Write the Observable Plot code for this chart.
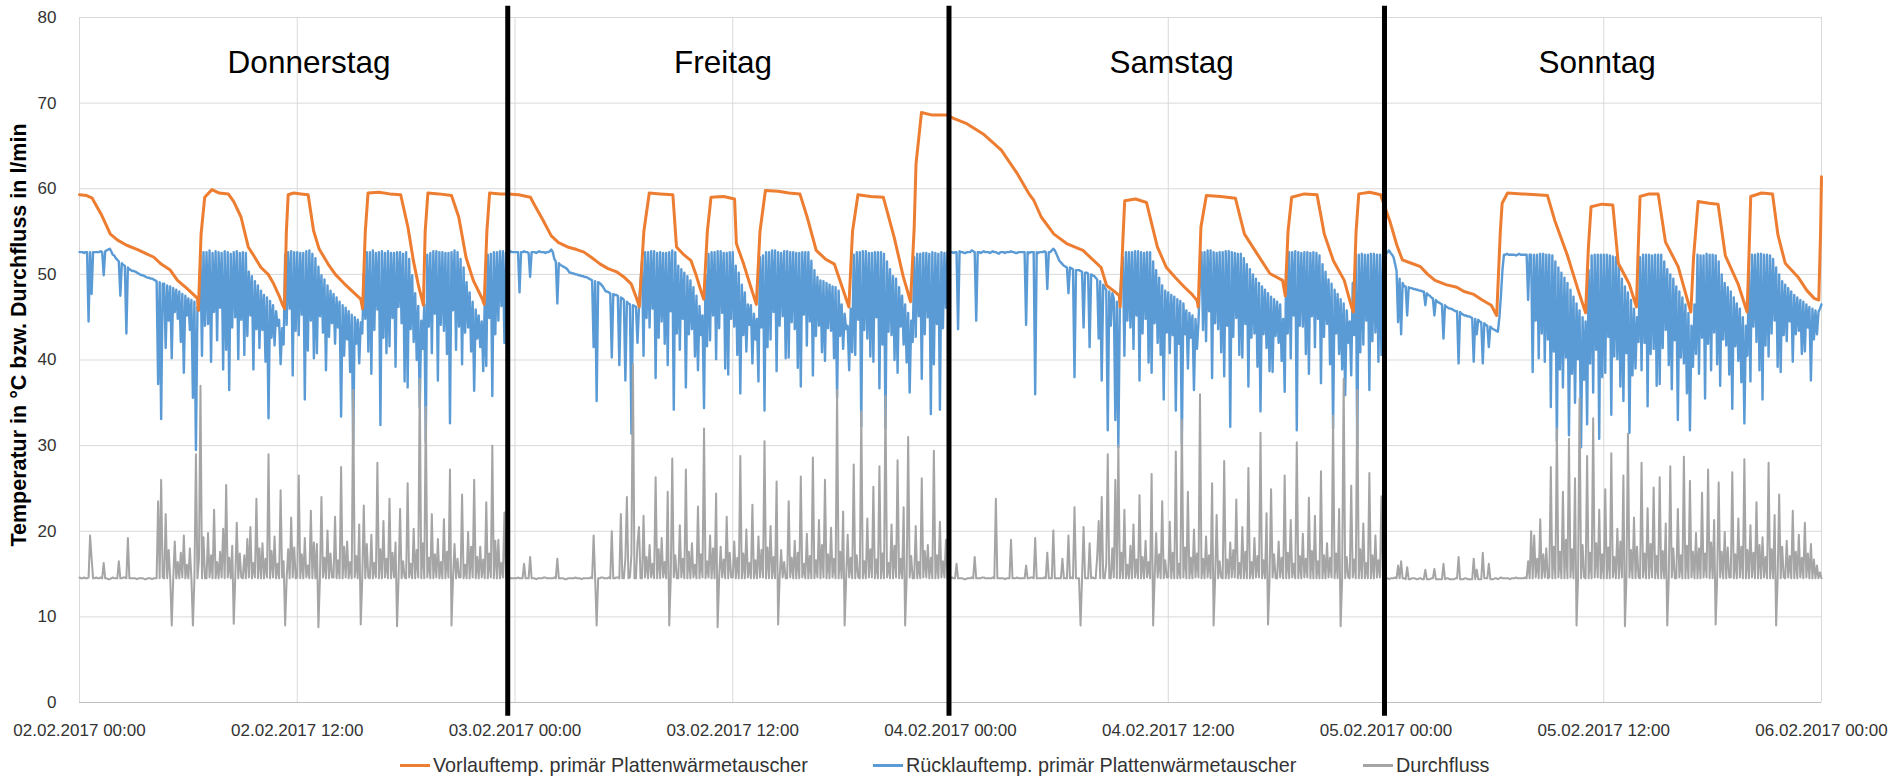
<!DOCTYPE html>
<html><head><meta charset="utf-8">
<script src="https://cdn.jsdelivr.net/npm/d3@7"></script>
<script src="https://cdn.jsdelivr.net/npm/@observablehq/plot@0.6"></script>
<style>
body{margin:0;background:#fff;font-family:"Liberation Sans",Arial,sans-serif;}
#wrap{position:relative;width:1901px;height:776px;overflow:hidden;}
#legend{position:absolute;left:0;top:752px;width:1901px;height:26px;font-size:19.8px;color:#333;}
.item{position:absolute;top:0;height:26px;display:flex;align-items:center;white-space:nowrap;}
.sw{display:inline-block;width:30px;height:3px;margin-right:3px;}
</style></head><body>
<div id="wrap"><div id="chart"></div><div id="legend"></div></div>
<script>
// ---------- data ----------
const startIso = "2017-02-02T00:00:00Z";
const stepMinutes = 5;
const seriesNames = ["Vorlauftemp. primär Plattenwärmetauscher","Rücklauftemp. primär Plattenwärmetauscher","Durchfluss"];
const seriesColors = ["#ED7D31","#5B9BD5","#A5A5A5"];
const yTitle = "Temperatur in °C bzw. Durchfluss in l/min";
const yTicks = [0,10,20,30,40,50,60,70,80];
const xTickTimes = ["2017-02-02T00:00:00Z","2017-02-02T12:00:00Z","2017-02-03T00:00:00Z","2017-02-03T12:00:00Z","2017-02-04T00:00:00Z","2017-02-04T12:00:00Z","2017-02-05T00:00:00Z","2017-02-05T12:00:00Z","2017-02-06T00:00:00Z"];
const dayNames = ["Donnerstag","Freitag","Samstag","Sonntag"];
const dayLabelTimes = ["2017-02-02T12:39:00Z","2017-02-03T11:28:00Z","2017-02-04T12:11:00Z","2017-02-05T11:38:00Z"];
const dayLabelValue = 74.7;
const separatorTimes = ["2017-02-02T23:36:00Z","2017-02-03T23:55:00Z","2017-02-04T23:55:00Z"];
const separatorRange = [-1.6, 81.3];

// Vorlauf: hours since start, value
const vorlaufHours = [0,0.4,0.7,1.2,1.7,2.1,2.6,3.2,3.7,4.1,4.5,5.0,5.4,5.9,6.3,6.5,6.55,6.7,6.9,7.3,7.7,8.2,8.5,8.9,9.3,9.6,10.0,10.4,10.7,11.0,11.2,11.3,11.4,11.5,11.8,12.2,12.6,12.9,13.2,13.7,14.1,14.6,15.1,15.5,15.6,15.75,15.9,16.5,17.1,17.7,18.1,18.4,18.7,18.85,18.95,19.05,19.2,19.8,20.5,20.9,21.3,21.7,22.0,22.2,22.3,22.45,22.6,23.2,23.6,24.2,24.85,
25.0,25.5,26.0,26.4,26.9,27.4,27.8,28.2,28.7,29.1,29.6,30.0,30.4,30.7,30.85,31.1,31.4,32.0,32.7,32.9,33.3,33.7,34.0,34.3,34.4,34.6,34.8,35.5,36.1,36.2,36.6,37.0,37.3,37.5,37.8,38.5,39.1,39.7,40.1,40.6,41.1,41.6,42.0,42.4,42.6,42.9,43.6,44.3,44.9,45.4,45.8,46.0,46.1,46.4,47.0,47.8,
48.2,48.9,49.8,50.8,51.7,52.3,52.6,53.0,53.7,54.4,55.3,56.3,56.6,57.1,57.3,57.35,57.5,57.6,58.2,58.8,59.4,59.9,60.4,60.9,61.3,61.6,61.65,61.8,62.1,62.9,63.7,64.2,64.9,65.6,66.3,66.45,66.6,66.8,67.5,68.2,68.6,69.1,69.7,70.1,70.2,70.35,70.5,71.1,71.7,
72.2,72.6,72.9,73.4,73.9,74.3,74.7,75.3,75.9,76.3,76.8,77.3,77.8,78.1,78.3,78.4,78.7,79.5,80.3,80.9,81.3,82.0,82.6,83.0,83.15,83.3,83.9,84.5,84.8,85.4,85.8,85.9,86.0,86.5,87.0,87.4,88.1,88.8,88.95,89.2,89.8,90.3,90.7,91.4,91.9,92.0,92.1,92.7,93.3,93.6,94.0,94.7,95.2,95.6,95.85,95.95,96.0];
const vorlaufValues = [59.3,59.2,58.9,57.0,54.7,54.0,53.4,52.9,52.4,52.0,51.2,50.5,49.3,48.4,47.6,47.2,45.8,54.7,59.0,59.9,59.5,59.4,58.5,56.7,53.2,52.2,50.8,50.0,48.9,47.5,46.4,46.0,55.0,59.3,59.5,59.4,59.3,55.1,53.0,51.2,50.0,48.9,47.9,47.1,46.0,55.0,59.5,59.6,59.4,59.3,55.5,51.6,48.5,47.3,46.4,55.0,59.5,59.4,59.2,56.7,52.0,49.3,48.0,47.1,46.5,55.0,59.5,59.4,59.4,59.3,59.0,
58.4,56.5,54.5,53.7,53.2,52.9,52.6,52.0,51.2,50.7,50.3,49.7,48.9,47.2,46.2,55.0,59.5,59.4,59.3,53.2,52.3,51.6,49.8,47.7,47.1,55.0,59.0,59.1,58.8,53.6,51.2,48.5,46.5,55.0,59.8,59.7,59.5,59.4,56.7,52.8,51.8,51.2,48.7,46.2,55.0,59.3,59.1,59.0,54.3,49.7,46.8,55.5,62.9,68.9,68.6,68.6,
68.2,67.6,66.4,64.5,61.7,59.5,58.6,56.7,54.7,53.6,52.8,50.8,48.7,47.9,47.5,46.2,54.0,58.6,58.8,58.4,53.2,50.8,49.6,48.5,47.7,46.9,46.2,55.5,59.2,59.1,58.9,54.7,52.4,50.1,49.3,47.5,55.0,59.0,59.4,59.3,54.7,51.6,49.3,46.2,45.6,55.0,59.4,59.6,59.3,
56.3,53.4,51.7,51.3,50.9,50.0,49.3,48.8,48.5,48.0,47.7,47.0,46.4,45.2,55.0,58.3,59.5,59.4,59.3,59.2,56.3,52.2,48.1,45.5,53.0,57.9,58.2,58.1,51.3,48.9,46.2,53.0,59.1,59.4,59.4,53.8,50.9,45.6,52.0,58.5,58.3,58.2,52.2,48.9,45.6,52.0,59.1,59.5,59.4,54.6,51.3,49.7,48.1,47.2,47.0,55.0,61.4];

// Rücklauf: one value every 5 minutes, one row per hour
const ruecklaufValues = [
52.6,52.6,52.6,52.5,52.6,52.6,44.5,52.6,47.7,52.6,52.6,52.6,
52.6,52.6,52.7,52.6,49.9,52.7,52.8,52.9,53.0,52.7,52.3,52.2,
51.9,51.7,51.5,47.5,51.3,51.1,51.0,43.1,50.8,50.6,50.5,50.4,
50.4,50.3,50.2,50.1,50.0,49.9,49.9,49.8,49.7,49.6,49.6,49.5,
49.5,49.4,49.3,49.2,37.2,49.1,33.1,48.9,48.9,41.4,48.7,44.6,
48.6,40.2,48.4,45.6,48.2,44.8,48.0,42.1,47.7,38.5,47.5,45.2,
47.2,43.5,47.0,35.6,46.8,29.5,46.2,45.8,52.2,40.5,52.6,44.0,
52.6,44.2,52.8,39.8,52.5,45.6,52.7,42.3,52.6,46.1,52.5,38.9,
52.7,41.2,52.6,36.5,52.4,43.8,52.6,45.0,52.7,40.1,52.5,44.7,
52.6,40.6,52.5,42.8,50.3,45.2,49.8,38.9,49.2,43.6,48.7,41.4,
48.1,43.5,47.6,39.8,47.3,33.2,46.9,42.6,46.4,41.7,45.7,44.0,
44.7,39.5,43.7,41.8,52.3,44.1,52.6,46.0,52.7,38.2,52.6,43.4,
52.6,42.9,52.5,45.3,52.5,35.4,52.7,41.1,52.8,44.6,52.4,40.2,
51.9,40.8,50.9,45.1,49.9,43.2,49.4,38.8,48.7,42.7,48.1,44.3,
47.7,41.9,47.3,43.8,46.8,33.4,46.4,40.5,46.1,42.4,45.7,38.6,
45.3,30.2,45.0,41.9,44.7,39.6,44.4,43.1,50.0,44.8,52.6,41.0,
52.6,38.4,52.8,43.5,52.5,45.9,52.6,32.4,52.7,42.6,52.5,40.8,
52.7,41.6,52.5,44.9,52.5,39.2,52.6,46.2,52.6,44.3,52.4,37.5,
52.6,36.8,51.8,43.6,49.9,42.1,47.8,40.0,46.3,34.5,44.6,41.3,
46.5,30.4,52.3,43.9,52.5,40.8,52.7,45.4,52.7,37.6,52.6,44.1,
52.6,43.4,52.5,40.7,52.5,32.6,52.6,45.8,52.8,41.2,52.6,43.9,
51.8,39.5,50.8,43.2,49.1,43.8,47.9,41.0,46.8,36.4,45.9,42.5,
45.2,41.5,44.5,38.7,47.0,39.3,52.3,44.9,52.4,35.8,52.6,43.0,
52.6,44.6,52.7,46.3,52.7,42.0,52.5,43.6,52.6,52.7,52.6,52.6,
52.6,52.6,52.6,47.9,52.6,52.6,52.7,52.6,52.6,52.5,49.7,52.6,
52.6,52.6,52.5,52.6,52.7,52.6,52.6,52.6,52.5,52.6,52.6,52.7,
52.9,52.6,51.8,51.5,46.6,51.3,51.1,51.0,50.9,50.8,50.7,50.5,
50.2,50.2,50.1,50.1,50.0,50.0,49.9,49.9,49.8,49.8,49.7,49.7,
49.6,49.5,49.4,49.3,41.5,49.2,35.2,49.1,49.0,48.8,48.6,48.3,
48.0,48.0,47.9,47.8,40.3,47.7,47.6,47.6,47.5,39.4,47.3,47.2,
47.0,37.6,46.8,46.6,46.5,31.4,46.4,46.3,46.2,42.0,46.2,49.0,
51.5,40.5,52.6,44.9,52.6,43.8,52.7,46.0,52.7,37.9,52.5,42.6,
52.6,44.5,52.5,41.9,52.5,39.4,52.6,45.7,52.8,34.2,52.6,43.1,
51.0,41.2,50.6,44.8,50.2,36.8,49.8,43.0,49.3,43.6,48.5,40.4,
47.5,38.8,46.3,42.9,45.2,34.4,50.0,41.6,52.4,42.3,52.6,45.2,
52.6,40.1,52.7,43.7,52.7,45.5,52.5,39.0,52.5,38.3,52.6,44.8,
52.6,43.9,51.0,40.6,50.2,36.1,48.8,42.9,47.9,41.0,46.5,44.1,
46.4,39.6,45.4,42.4,44.8,37.5,52.0,43.8,52.2,34.1,52.6,41.5,
52.6,42.4,52.8,45.6,52.8,38.7,52.6,44.0,52.5,45.1,52.7,40.2,
52.7,40.3,52.6,44.4,52.6,43.6,52.5,39.1,52.5,36.9,52.6,45.3,
52.6,41.7,52.6,44.5,51.6,38.2,50.5,42.8,49.7,44.0,49.3,40.9,
49.2,39.9,49.0,43.7,48.8,43.4,48.6,40.2,48.5,35.6,48.1,42.8,
46.5,41.3,45.4,43.6,44.0,38.8,46.0,40.9,52.3,40.6,52.6,44.7,
52.6,32.3,52.7,43.5,52.7,42.5,52.5,40.4,52.5,39.8,52.6,45.0,
52.6,36.7,52.6,41.8,52.4,32.0,51.5,43.3,50.6,42.9,49.8,40.0,
49.5,38.5,48.5,43.9,47.5,41.8,46.5,39.7,45.5,36.2,44.6,42.1,
52.0,42.7,52.4,45.1,52.4,37.8,52.5,43.0,52.5,45.0,52.4,33.7,
52.6,39.5,52.5,44.2,52.4,34.2,52.6,43.7,52.5,46.1,52.6,52.6,
52.6,52.6,52.5,52.6,52.6,43.6,52.7,52.6,52.6,52.5,52.5,52.6,
52.6,52.6,52.8,52.7,52.6,44.6,52.6,52.6,52.5,52.6,52.7,52.6,
52.6,52.6,52.5,52.6,52.7,52.6,52.6,52.5,52.4,52.6,52.6,52.6,
52.5,52.6,52.6,52.6,52.7,52.6,52.6,52.5,52.5,52.6,52.6,52.6,
52.6,52.6,44.1,52.6,52.5,52.6,52.6,52.6,36.0,52.6,52.5,52.6,
52.6,52.6,52.7,52.6,48.3,52.6,52.6,52.8,53.0,52.8,52.4,52.0,
51.6,51.4,51.2,51.0,50.9,50.8,47.8,50.8,50.7,50.6,38.0,50.5,
50.5,50.5,50.4,50.3,43.8,50.2,50.2,50.1,41.5,50.0,49.9,49.8,
49.6,49.4,42.5,49.2,37.6,48.8,48.4,48.2,31.8,48.0,44.0,47.8,
47.2,33.0,46.8,29.8,46.4,50.0,52.0,40.5,52.6,44.6,52.6,43.8,
52.6,41.3,52.7,45.2,52.7,37.6,52.6,43.1,52.5,44.8,52.6,39.7,
52.6,38.5,51.5,44.3,50.5,42.0,49.6,40.6,48.7,35.4,48.1,43.2,
47.9,40.8,47.6,42.9,47.4,34.1,47.1,41.9,46.9,30.2,46.6,43.0,
45.8,39.0,45.5,42.6,45.2,36.5,44.8,41.3,44.4,49.5,52.6,43.5,
52.6,42.2,52.8,45.7,52.8,37.9,52.6,44.3,52.5,43.6,52.6,40.9,
52.6,38.1,52.7,44.0,52.7,32.2,52.6,42.7,52.5,44.9,52.4,40.6,
52.4,40.3,51.9,44.2,51.2,36.9,50.6,42.6,50.0,43.1,49.5,39.2,
49.0,34.0,48.6,43.0,48.2,41.4,47.8,38.7,47.4,38.6,47.1,42.8,
46.8,42.0,46.5,39.9,44.8,36.3,51.0,43.1,52.6,40.2,52.6,45.2,
52.7,31.8,52.6,44.0,52.5,43.9,52.6,40.7,52.6,38.4,52.5,45.1,
52.6,41.5,52.5,44.8,52.2,37.3,51.2,42.7,50.3,44.2,49.4,39.5,
48.9,32.0,48.2,43.1,47.7,40.7,47.1,38.9,46.6,35.9,45.8,42.0,
44.5,38.2,49.0,42.9,52.3,29.6,52.3,40.9,52.4,41.8,52.3,44.6,
52.3,36.5,52.4,42.2,52.4,43.2,52.3,39.8,52.3,40.6,52.4,44.9,
52.4,52.6,52.8,52.5,52.3,52.0,51.2,50.4,44.4,49.5,43.0,49.0,
48.6,48.6,45.2,48.5,48.4,48.4,48.3,48.3,48.2,48.2,48.1,48.1,
48.0,48.0,46.4,47.8,47.6,47.5,47.3,47.2,45.2,47.0,46.8,46.7,
46.6,46.5,42.5,46.4,46.2,46.1,46.0,46.0,45.9,45.8,45.7,45.7,
39.6,45.6,45.4,45.3,45.2,45.2,45.1,45.1,45.0,44.9,39.8,44.8,
43.0,44.7,44.5,44.4,39.6,44.3,44.1,44.0,41.5,43.9,43.7,43.6,
43.5,43.4,43.3,45.0,47.5,50.5,52.3,52.3,52.4,52.3,52.3,52.3,
52.3,52.3,52.2,52.3,52.4,52.3,52.3,52.3,52.3,52.3,47.0,52.3,
52.3,38.6,52.3,44.6,52.3,40.2,52.4,43.1,52.4,39.8,52.3,42.4,
52.3,34.5,52.2,41.0,51.5,30.5,50.8,38.9,50.2,36.8,49.6,40.3,
49.0,31.2,48.2,38.4,47.4,35.0,46.6,40.1,45.8,29.8,45.0,37.7,
44.5,32.5,50.5,39.6,52.2,36.2,52.3,41.2,52.3,30.8,52.3,38.0,
52.3,38.5,52.3,42.7,52.2,33.6,52.1,40.4,52.0,40.1,51.0,36.9,
49.5,35.2,48.6,40.8,47.9,31.5,47.0,38.2,46.0,39.0,45.0,42.1,
52.0,38.8,52.3,42.0,52.3,34.6,52.3,40.7,52.2,41.3,52.3,37.0,
52.3,37.2,52.3,41.4,51.5,43.5,50.6,39.4,50.0,36.6,49.5,42.3,
48.6,33.0,48.0,40.3,47.3,39.6,46.5,36.1,45.5,31.8,44.0,39.2,
46.5,40.7,52.3,38.4,52.2,42.6,52.2,35.5,52.4,41.9,52.3,38.8,
52.3,43.2,52.2,39.5,51.5,37.0,50.0,42.4,49.0,41.7,48.5,38.3,
48.0,34.3,47.3,41.6,46.6,39.9,46.0,37.4,45.0,32.6,44.0,40.5,
50.5,37.5,52.3,43.9,52.3,42.1,52.4,38.8,52.4,35.4,52.3,41.7,
52.3,40.4,52.2,43.1,51.8,44.6,50.8,39.2,50.0,38.6,49.2,42.9,
48.8,42.2,48.4,44.5,48.0,39.8,47.6,43.0,47.3,43.4,47.0,40.7,
46.8,41.0,46.5,43.8,46.2,37.6,46.0,42.4,45.8,43.0,45.6,46.0,
46.5];

// Durchfluss: one value every 5 minutes, one row per hour
const durchflussValues = [
14.6,14.5,14.5,14.6,14.5,14.5,14.6,19.5,16.8,14.5,14.5,14.6,
14.5,14.5,14.6,14.5,16.3,14.5,14.5,14.4,14.4,14.5,14.6,14.5,
14.5,14.5,16.5,14.5,14.5,14.6,14.6,14.5,19.2,14.5,14.5,14.5,
14.5,14.5,14.4,14.5,14.5,14.5,14.5,14.4,14.4,14.5,14.5,14.5,
14.4,14.5,14.5,14.5,23.5,14.5,26.0,14.6,14.5,22.0,14.5,17.8,
14.5,9.0,14.5,18.8,14.5,16.4,14.5,17.5,14.6,19.5,14.5,16.1,
14.5,18.0,14.5,9.0,14.5,29.0,14.5,16.7,37.0,14.5,19.3,14.5,
14.5,19.8,14.6,17.2,14.5,22.5,14.5,16.4,14.5,17.6,14.6,20.3,
14.5,25.4,14.6,16.9,14.5,18.3,9.2,14.5,21.0,14.5,17.4,14.6,
14.5,17.2,14.5,19.1,14.6,20.5,14.5,16.3,14.6,23.8,14.5,18.0,
14.5,18.6,14.5,16.8,14.6,29.0,14.5,17.7,14.6,19.4,14.5,16.2,
14.5,24.8,14.6,16.5,9.0,14.5,17.9,14.5,21.6,14.6,18.1,14.5,
14.6,26.5,14.5,17.3,14.5,19.2,14.6,16.0,14.5,22.4,14.5,18.7,
14.5,18.5,8.8,14.5,24.0,14.6,16.9,14.5,20.1,14.5,17.4,14.6,
14.6,21.7,14.5,16.6,14.5,27.5,14.5,18.2,14.6,18.8,14.5,16.4,
14.5,36.5,14.6,17.1,14.5,20.8,9.1,14.5,23.0,14.5,18.5,14.6,
14.5,19.6,14.5,16.3,14.6,28.0,14.5,17.9,14.5,21.2,14.6,16.8,
14.5,23.8,14.5,17.5,14.6,18.7,8.9,14.5,22.6,14.5,16.5,14.6,
14.5,25.6,14.6,16.2,14.5,20.3,14.5,17.8,14.6,37.8,14.5,18.6,
14.5,34.5,14.6,16.9,14.5,22.0,14.5,17.3,14.6,19.1,14.5,16.4,
14.5,21.4,14.5,17.6,14.6,27.2,9.0,14.5,18.5,14.5,16.8,14.6,
14.6,24.3,14.5,16.1,14.5,19.9,14.5,18.2,14.6,26.0,14.5,17.0,
14.5,18.2,14.6,16.7,14.5,23.4,14.5,17.4,14.6,30.0,14.5,18.9,
14.5,19.0,14.5,16.3,14.6,22.2,14.5,17.1,14.6,14.5,14.5,14.5,
14.5,14.5,14.6,14.5,14.5,14.5,16.2,14.5,14.5,14.5,17.0,14.5,
14.5,14.5,14.4,14.5,14.5,14.5,14.5,14.6,14.6,14.5,14.5,14.5,
14.5,14.5,14.6,14.5,16.8,14.5,14.5,14.5,14.5,14.4,14.4,14.5,
14.5,14.5,14.5,14.5,14.6,14.5,14.5,14.5,14.4,14.5,14.5,14.5,
14.5,14.5,14.6,14.5,19.5,14.5,9.0,14.5,14.5,14.6,14.6,14.5,
14.5,14.5,14.6,14.5,20.0,14.5,14.5,14.6,14.6,14.5,22.0,14.5,
14.5,16.8,24.0,14.5,14.6,17.3,39.5,14.5,14.5,18.6,20.5,14.5,
14.5,21.8,14.6,17.0,14.5,18.4,14.6,16.2,14.5,26.3,14.5,17.9,
14.5,19.2,14.6,16.4,14.5,24.6,9.0,14.5,28.5,14.6,17.2,14.5,
14.5,20.7,14.6,16.8,14.5,27.2,14.5,17.6,14.5,18.6,14.6,16.1,
14.5,22.9,14.5,17.3,14.6,32.0,14.5,16.5,14.6,19.5,14.5,18.0,
14.5,24.4,8.8,14.5,18.2,14.6,16.7,14.5,21.7,14.5,17.5,14.6,
14.6,18.8,14.5,16.9,14.5,28.8,14.5,17.4,14.5,20.2,14.6,16.3,
14.5,23.1,14.5,16.6,14.5,19.4,14.6,17.8,14.6,30.5,14.5,18.1,
14.5,20.6,14.5,17.0,14.5,25.8,9.1,14.5,17.8,14.6,16.4,14.5,
14.5,23.5,14.6,16.9,14.5,18.9,14.5,17.5,14.5,26.4,14.6,16.2,
14.5,19.7,14.5,17.1,14.5,28.6,14.5,16.6,14.6,21.3,14.5,18.4,
14.6,26.0,14.5,17.3,14.5,20.4,14.6,16.8,14.5,36.5,14.5,17.6,
14.5,22.3,9.0,14.5,19.6,14.6,16.9,14.5,27.8,14.5,17.2,14.6,
14.5,34.0,14.5,16.5,14.5,21.5,14.6,17.9,14.6,25.2,14.5,16.7,
14.5,27.6,14.5,17.4,14.5,35.8,14.6,16.3,14.5,20.8,14.5,18.3,
14.6,28.3,14.5,16.8,14.5,22.8,9.0,14.5,31.0,14.6,17.1,14.5,
14.5,20.6,14.5,16.4,14.5,26.2,14.6,17.7,14.6,18.4,14.5,16.9,
14.5,29.4,14.5,17.2,14.5,21.1,14.6,16.5,14.6,19.0,14.5,14.5,
14.5,14.6,14.5,14.5,16.2,14.5,14.5,14.5,14.5,14.4,14.4,14.5,
14.5,14.5,14.6,14.5,17.0,14.5,14.5,14.5,14.5,14.6,14.6,14.5,
14.5,14.5,14.5,14.5,14.6,14.5,23.8,14.5,14.5,14.5,14.5,14.5,
14.4,14.5,14.5,14.5,19.0,14.5,14.5,14.5,14.6,14.5,14.5,14.5,
14.5,14.5,16.0,14.5,14.5,14.6,14.6,14.5,19.2,14.5,14.5,14.5,
14.5,14.5,14.6,14.5,17.5,14.5,14.5,14.5,20.1,14.5,14.5,14.5,
14.5,14.5,16.8,14.5,14.5,14.5,19.5,14.5,14.6,14.5,22.8,14.5,
14.5,14.5,9.0,14.5,20.5,14.5,14.5,14.5,18.6,14.5,14.6,14.5,
14.5,17.0,21.2,14.5,24.0,14.5,14.5,16.2,29.0,14.5,14.5,18.0,
14.6,26.0,14.5,30.0,14.5,17.5,14.5,22.5,14.5,16.1,14.5,18.3,
14.5,20.8,14.6,16.7,14.5,24.2,14.5,17.0,14.5,18.9,14.6,16.4,
14.5,26.7,9.0,14.5,19.8,14.6,17.3,14.5,23.5,14.5,16.6,14.6,
14.6,21.1,14.5,17.5,14.5,29.3,14.5,16.2,14.5,33.0,14.6,18.1,
14.5,24.6,14.5,16.9,14.5,20.2,14.6,17.4,14.6,36.0,14.5,16.8,
14.5,19.4,14.6,17.2,14.5,25.6,9.0,14.5,21.9,14.5,16.5,14.6,
14.5,28.2,14.5,16.7,14.5,18.7,14.6,17.8,14.6,23.7,14.5,16.3,
14.5,20.5,14.5,17.6,14.5,27.4,14.5,16.4,14.5,19.2,14.6,17.1,
14.6,31.5,14.5,16.6,14.5,22.1,9.1,14.5,24.9,14.6,17.3,14.5,
14.5,18.8,14.6,16.9,14.5,26.5,14.5,17.5,14.5,21.3,14.6,16.2,
14.5,30.4,14.5,17.1,14.5,19.7,14.6,16.8,14.6,23.9,14.5,17.7,
14.5,21.8,14.5,16.5,14.5,27.0,14.5,17.2,14.5,18.6,14.6,16.9,
14.6,33.5,14.5,17.4,14.5,22.6,8.9,14.5,37.8,14.5,17.0,14.6,
14.5,25.3,14.6,16.7,14.5,36.5,14.5,17.9,14.5,20.9,14.5,16.3,
14.5,26.8,14.5,17.2,14.5,19.5,14.6,16.6,14.6,24.1,14.5,14.5,
14.5,14.5,14.4,14.5,14.5,14.5,14.6,14.5,16.0,14.5,16.5,14.5,
14.5,14.4,15.8,14.4,14.4,14.5,14.5,14.5,14.4,14.4,14.5,14.5,
14.4,14.4,15.5,14.4,14.4,14.4,14.5,14.5,15.6,14.4,14.4,14.4,
14.4,14.4,16.2,14.4,14.5,14.5,14.4,14.4,14.4,14.4,14.5,14.5,
17.0,14.4,14.4,14.4,14.5,14.5,14.4,14.4,14.4,14.4,16.8,14.4,
15.5,14.4,14.4,14.4,17.5,14.5,14.5,14.5,16.2,14.4,14.4,14.4,
14.5,14.5,14.4,14.5,14.6,14.5,14.5,14.5,14.5,14.5,14.4,14.5,
14.5,14.5,14.6,14.5,14.5,14.5,14.5,14.5,14.6,14.5,16.5,14.5,
20.0,14.5,19.5,14.6,16.8,14.5,21.4,14.5,17.3,14.6,18.0,14.5,
14.6,27.5,14.5,18.2,14.5,32.0,14.6,17.6,14.5,24.6,14.5,19.0,
14.5,30.8,14.6,17.9,14.5,26.2,9.0,14.5,35.5,14.5,18.4,14.6,
14.5,28.8,14.5,17.5,14.5,33.2,14.6,18.6,14.6,22.5,14.5,17.3,
14.5,24.9,14.5,18.1,14.5,29.1,14.6,17.0,14.5,20.3,14.5,18.8,
14.6,26.5,8.9,14.5,31.4,14.6,17.8,14.5,21.6,14.5,18.2,14.6,
14.5,28.0,14.6,17.4,14.5,22.7,14.5,18.5,14.6,25.1,14.5,17.1,
14.5,26.3,14.5,17.7,14.5,20.9,9.0,14.5,27.6,14.6,18.0,14.5,
14.5,22.6,14.6,17.2,14.5,28.7,14.5,18.3,14.5,25.9,14.6,17.6,
14.5,19.8,14.5,18.0,14.5,24.5,14.6,17.4,14.6,27.2,14.5,18.7,
14.5,21.3,9.1,14.5,25.7,14.6,17.6,14.5,19.9,14.5,18.1,14.6,
14.6,26.9,14.5,17.3,14.5,21.5,14.6,18.2,14.5,28.4,14.5,17.8,
14.5,20.7,14.6,17.5,14.5,23.4,14.5,18.4,14.5,19.3,14.6,17.0,
14.5,28.0,14.5,17.9,14.5,21.9,9.0,14.5,24.3,14.5,18.2,14.6,
14.5,18.9,14.6,17.1,14.5,22.4,14.5,17.6,14.5,19.6,14.6,16.9,
14.5,21.0,14.6,17.4,14.5,18.5,14.5,16.7,14.5,16.0,14.5,15.2,
14.5];

// ---------- tables ----------
const startMs = Date.parse(startIso);
const atStep = i => new Date(startMs + i * stepMinutes * 60000);
const vorlauf = vorlaufHours.map((h, i) => ({t: new Date(startMs + h * 3600000), v: vorlaufValues[i]}));
const ruecklauf = ruecklaufValues.map((v, i) => ({t: atStep(i), v}));
const durchfluss = durchflussValues.map((v, i) => ({t: atStep(i), v}));
const xTicks = xTickTimes.map(s => new Date(s));
const days = dayNames.map((name, i) => ({name, t: new Date(dayLabelTimes[i])}));
const separators = separatorTimes.map(s => new Date(s));
const fmt = d3.utcFormat("%d.%m.%Y %H:%M");

const chart = Plot.plot({
  width: 1901, height: 752,
  marginLeft: 79, marginRight: 80, marginTop: 17, marginBottom: 50,
  style: {fontFamily: "'Liberation Sans', Arial, sans-serif", fontSize: "17px", color: "#333", background: "#fff", overflow: "visible"},
  x: {type: "utc", domain: [xTicks[0], xTicks[xTicks.length - 1]]},
  y: {domain: [0, 80]},
  marks: [
    Plot.gridX(xTicks, {stroke: "#d9d9d9", strokeOpacity: 1, strokeWidth: 1}),
    Plot.gridY(yTicks.filter(d => d > 0), {stroke: "#d9d9d9", strokeOpacity: 1, strokeWidth: 1}),
    Plot.ruleY([0], {stroke: "#bfbfbf", strokeWidth: 1}),
    Plot.axisX(xTicks, {tickFormat: fmt, tickSize: 0, tickPadding: 21, label: null, fontSize: 17, fill: "#333"}),
    Plot.axisY(yTicks, {tickSize: 0, tickPadding: 23, label: null, fontSize: 17, fill: "#333"}),
    Plot.lineY(ruecklauf, {x: "t", y: "v", stroke: seriesColors[1], strokeWidth: 2.4}),
    Plot.lineY(durchfluss, {x: "t", y: "v", stroke: seriesColors[2], strokeWidth: 2}),
    Plot.lineY(vorlauf, {x: "t", y: "v", stroke: seriesColors[0], strokeWidth: 3}),
    Plot.ruleX(separators, {x: d => d, y1: () => separatorRange[0], y2: () => separatorRange[1], stroke: "#000", strokeWidth: 5}),
    Plot.text(days, {x: "t", y: () => dayLabelValue, text: "name", fontSize: 31.5, fill: "#000"}),
    Plot.text([yTitle], {frameAnchor: "left", textAnchor: "middle", dx: -60, dy: -25, rotate: -90, text: d => d, fontSize: 21.5, fontWeight: "bold", fill: "#000"})
  ]
});
document.getElementById("chart").appendChild(chart);

// legend
const legendLeft = [400, 873, 1363];
const legend = document.getElementById("legend");
seriesNames.forEach((name, i) => {
  const item = document.createElement("div");
  item.className = "item";
  item.style.left = legendLeft[i] + "px";
  const sw = document.createElement("span");
  sw.className = "sw";
  sw.style.background = seriesColors[i];
  item.appendChild(sw);
  item.appendChild(document.createTextNode(name));
  legend.appendChild(item);
});
</script>
</body></html>
